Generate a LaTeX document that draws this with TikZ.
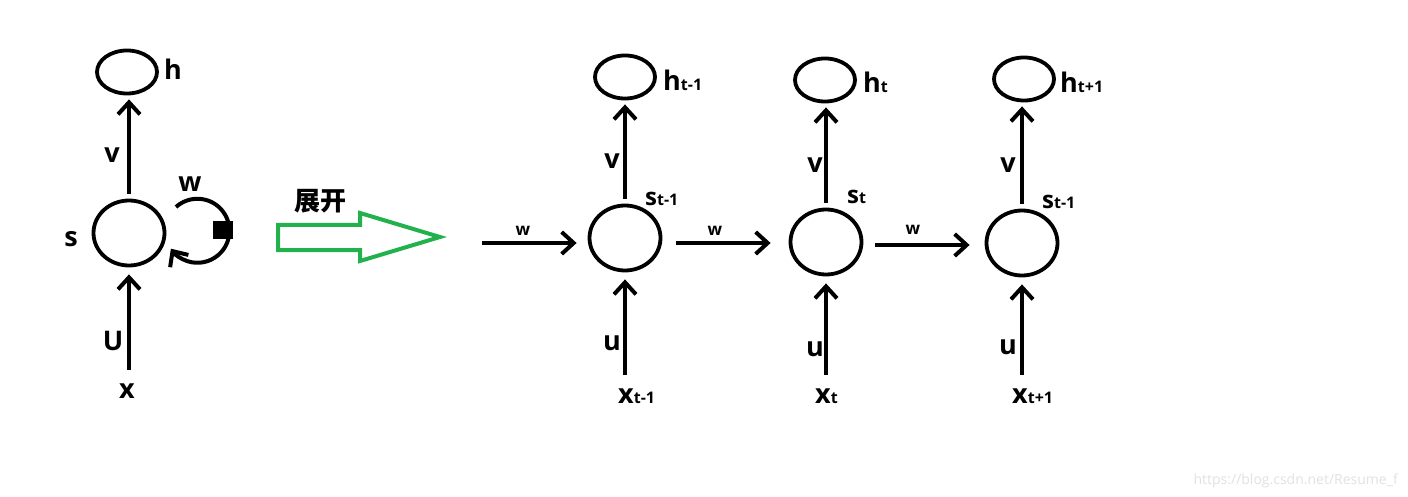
\documentclass[tikz,border=0pt]{standalone}
\usepackage{fontspec}
\setmainfont{Open Sans}
\newfontfamily\cjk{Noto Sans CJK SC}
\usetikzlibrary{positioning,arrows.meta,shapes.geometric}
\definecolor{unfoldgreen}{RGB}{34,177,76}
\definecolor{markgray}{RGB}{226,226,226}
\newcommand\idx[1]{{\fontsize{16}{16}\selectfont #1}}
\tikzset{
  cell/.style={ellipse,draw=black,line width=3.8pt,minimum width=71pt,minimum height=65pt,inner sep=0pt},
  outcell/.style={ellipse,draw=black,line width=3.8pt,minimum width=60pt,minimum height=43pt,inner sep=0pt},
  link/.style={-{Straight Barb[length=12pt,width=22pt]},line width=4pt},
  uplink/.style={link,shorten <=5pt,shorten >=4pt},
  inlink/.style={link,shorten <=13pt,shorten >=7pt},
  lbl/.style={font=\bfseries\fontsize{27}{27}\selectfont,inner sep=0pt,anchor=base},
  smalllbl/.style={font=\bfseries\fontsize{17}{17}\selectfont,inner sep=0pt,anchor=base}
}

\begin{document}
\begin{tikzpicture}[x=1pt,y=-1pt]
  \fill[white] (0,0) rectangle (1408,497);
  \useasboundingbox (0,0) rectangle (1408,497);

  % folded network
  \node[outcell] (h0) at (127,72) {};
  \node[cell] (s0) at (129,233) {};
  \node[lbl] (x0) at (127,398) {x};
  \node[lbl,anchor=base west] (h0l) at (164,80) {h};
  \node[lbl] (v0) at (112,163) {v};
  \node[lbl] (s0l) at (71,247) {s};
  \node[lbl] (u0) at (113,350) {U};
  \node[lbl] (w0) at (190,192) {w};
  \node[fill=black,minimum width=20pt,minimum height=18pt,inner sep=0pt] (gate) at (223,230) {};
  \coordinate (loop) at (176,207);

  \draw[uplink] (s0.north) -- (s0.north |- h0.south);
  \draw[inlink] (s0.south |- x0.north) -- (s0.south);
  \draw[link] (loop) arc[start angle=-132,end angle=146,radius=32];

  % unfold arrow
  \node[font=\cjk\bfseries\fontsize{26}{26}\selectfont,inner sep=0pt] (unfold) at (320,201) {展开};
  \draw[unfoldgreen,line width=4pt] (278,225) -- (360,225) -- (360,213) -- (440,237)
    -- (360,261) -- (360,250) -- (278,250) -- cycle;

  % unfolded network
  \node[outcell] (h1) at (625,77) {};
  \node[cell] (s1) at (625,238) {};
  \node[outcell] (h2) at (825,80) {};
  \node[cell] (s2) at (826,242) {};
  \node[outcell] (h3) at (1024,79) {};
  \node[cell] (s3) at (1022,243) {};

  \node[lbl,anchor=base west] (h1l) at (663,91) {h\idx{t-1}};
  \node[lbl,anchor=base west] (h2l) at (863,93) {h\idx{t}};
  \node[lbl,anchor=base west] (h3l) at (1060,93) {h\idx{t+1}};
  \node[lbl,anchor=base west,font=\bfseries\fontsize{24}{24}\selectfont] (s1l) at (645,206) {s\idx{t-1}};
  \node[lbl,anchor=base west,font=\bfseries\fontsize{24}{24}\selectfont] (s2l) at (847,204) {s\idx{t}};
  \node[lbl,anchor=base west,font=\bfseries\fontsize{24}{24}\selectfont] (s3l) at (1042,208) {s\idx{t-1}};
  \node[lbl,anchor=base west] (x1) at (618,403) {x\idx{t-1}};
  \node[lbl,anchor=base west] (x2) at (815,403) {x\idx{t}};
  \node[lbl,anchor=base west] (x3) at (1012,403) {x\idx{t+1}};
  \node[lbl] (v1) at (612,169) {v};
  \node[lbl] (v2) at (815,173) {v};
  \node[lbl] (v3) at (1008,173) {v};
  \node[lbl] (u1) at (612,350) {u};
  \node[lbl] (u2) at (815,356) {u};
  \node[lbl] (u3) at (1008,354) {u};
  \node[smalllbl] (w1) at (523,236) {w};
  \node[smalllbl] (w2) at (715,236) {w};
  \node[smalllbl] (w3) at (913,234) {w};
  \coordinate (w1in) at (482,243);

  \draw[uplink] (s1.north) -- (s1.north |- h1.south);
  \draw[uplink] (s2.north) -- (s2.north |- h2.south);
  \draw[uplink] (s3.north) -- (s3.north |- h3.south);
  \draw[inlink] (s1.south |- x1.north) -- (s1.south);
  \draw[inlink] (s2.south |- x2.north) -- (s2.south);
  \draw[inlink] (s3.south |- x3.north) -- (s3.south);
  \draw[link,shorten >=11pt] (w1in) -- (w1in -| s1.west);
  \draw[link,shorten <=14pt,shorten >=18pt] ([yshift=-5pt]s1.east) -- ([yshift=-5pt]s1.east -| s2.west);
  \draw[link,shorten <=12pt,shorten >=15pt] ([yshift=-3pt]s2.east) -- ([yshift=-3pt]s2.east -| s3.west);

  \node[font=\fontsize{14}{14}\selectfont,text=markgray,anchor=east,inner sep=0pt] (mark) at (1398,481) {https://blog.csdn.net/Resume\_f};
\end{tikzpicture}
\end{document}
